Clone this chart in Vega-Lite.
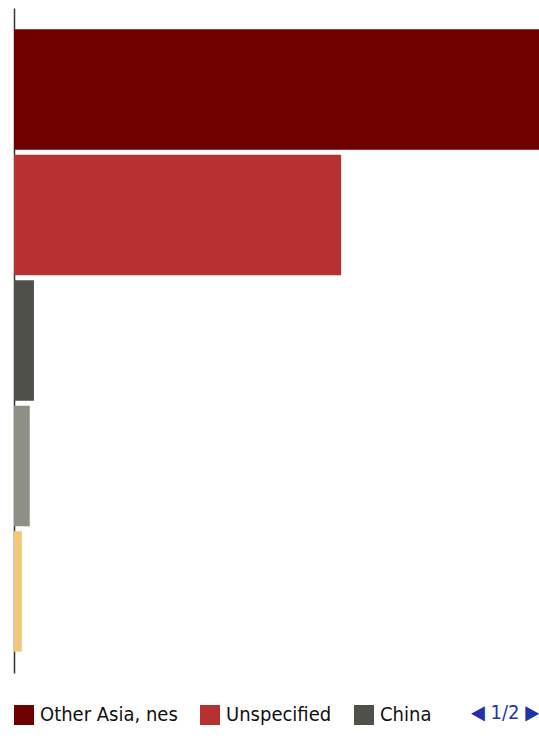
{
  "$schema": "https://vega.github.io/schema/vega-lite/v6.json",
  "autosize": "none",
  "width": 525,
  "height": 665,
  "padding": {"left": 14, "top": 8, "right": 0, "bottom": 65},
  "background": "white",
  "data": {
    "values": [
      {"partner": "Other Asia, nes", "share": 100},
      {"partner": "Unspecified", "share": 62.3},
      {"partner": "China", "share": 3.8},
      {"partner": "Singapore", "share": 3.0},
      {"partner": "Malaysia", "share": 1.5}
    ]
  },
  "title": {
    "text": "◀ 1/2 ▶",
    "orient": "bottom",
    "anchor": "end",
    "offset": -22,
    "font": "DejaVu Sans Condensed",
    "fontSize": 20,
    "fontWeight": "normal",
    "color": "#2233aa"
  },
  "mark": {"type": "bar"},
  "encoding": {
    "y": {
      "field": "partner",
      "type": "nominal",
      "sort": null,
      "scale": {"paddingInner": 0.04, "paddingOuter": 0.17},
      "axis": {
        "title": null,
        "labels": false,
        "ticks": false,
        "grid": false,
        "domain": true,
        "domainColor": "#333333",
        "domainWidth": 1.5
      }
    },
    "x": {
      "field": "share",
      "type": "quantitative",
      "scale": {"domain": [0, 100], "nice": false},
      "axis": null
    },
    "color": {
      "field": "partner",
      "type": "nominal",
      "sort": null,
      "scale": {
        "domain": ["Other Asia, nes", "Unspecified", "China", "Singapore", "Malaysia"],
        "range": ["#6e0000", "#b73131", "#50504a", "#8f9085", "#f3c67b"]
      },
      "legend": {
        "orient": "bottom",
        "direction": "horizontal",
        "title": null,
        "values": ["Other Asia, nes", "Unspecified", "China"],
        "symbolType": "square",
        "symbolSize": 400,
        "symbolStrokeWidth": 0,
        "labelFont": "DejaVu Sans Condensed",
        "labelFontSize": 20,
        "labelColor": "#111111",
        "labelOffset": 6,
        "columnPadding": 22,
        "offset": 32,
        "padding": 0
      }
    }
  },
  "config": {"view": {"stroke": null}}
}
